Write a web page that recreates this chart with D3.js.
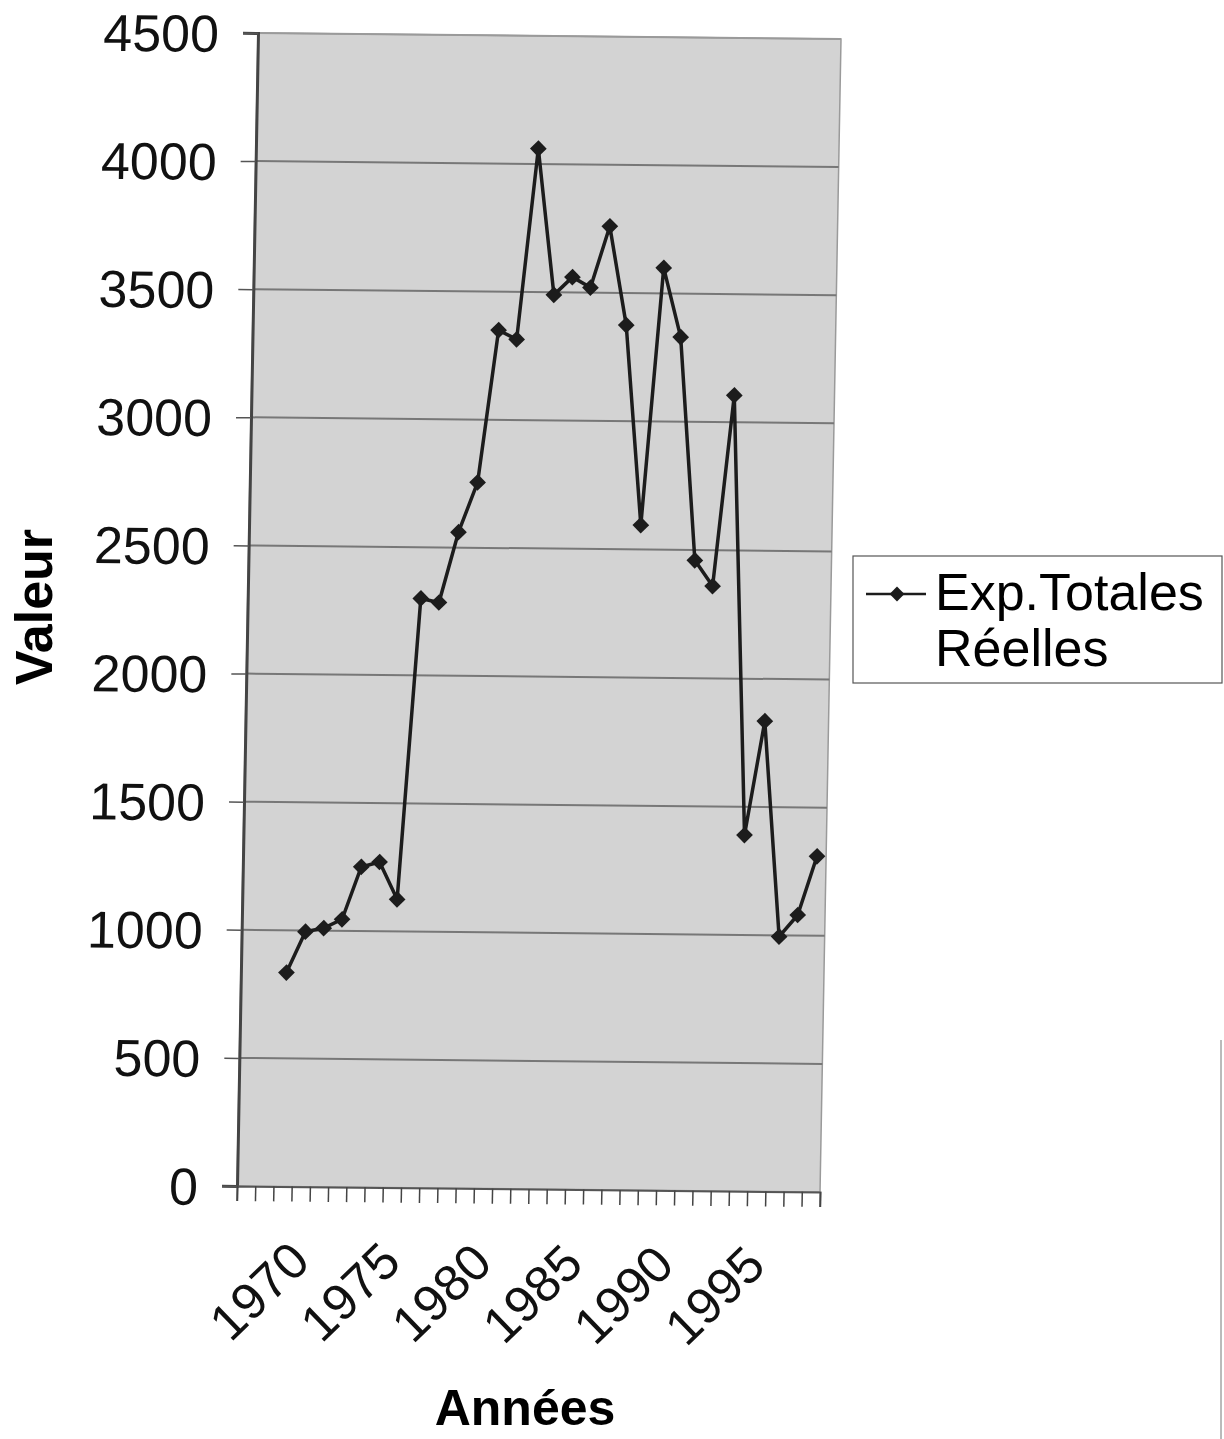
<!DOCTYPE html>
<html lang="fr">
  <head>
    <meta charset="utf-8">
    <title>Exp. Totales Réelles</title>
    <style>
      body { margin: 0; background: white; }
      svg { display: block; font-family: "Liberation Sans", Arial, sans-serif; }
      .tick text { fill: #111; }
    </style>
    <script src="https://d3js.org/d3.v7.min.js"></script>
  </head>
  <body>
    <script>
    // data
    const years = d3.range(1970, 2000);
    const values = [835, 995, 1010, 1045, 1250, 1270, 1125, 2300, 2285, 2560,
                    2755, 3350, 3315, 4060, 3490, 3560, 3520, 3760, 3375, 2595,
                    3600, 3330, 2460, 2360, 3105, 1390, 1835, 995, 1080, 1310];
    const yTicks = d3.range(0, 4501, 500);
    const xLabelYears = [1970, 1975, 1980, 1985, 1990, 1995];
    const seriesName = ["Exp.Totales", "Réelles"];

    const W = 1224, H = 1439;
    const plot = { left: 237, right: 820, top: 33, bottom: 1186 };

    const svg = d3.select("body").append("svg")
      .attr("width", W)
      .attr("height", H);

    // categories 1968..1999, points sit in the middle of each slot
    const x = d3.scaleLinear().domain([1967.5, 1999.5]).range([plot.left, plot.right]);
    const y = d3.scaleLinear().domain([0, 4500]).range([plot.bottom, plot.top]);

    // the scan is slightly sheared, so the plot group gets a small affine tweak
    const g = svg.append("g")
      .attr("transform", "matrix(1 0.0103 -0.0182 1 21.6 -2.44)");

    g.append("rect")
      .attr("x", plot.left)
      .attr("y", plot.top)
      .attr("width", plot.right - plot.left)
      .attr("height", plot.bottom - plot.top)
      .attr("fill", "#d3d3d3")
      .attr("stroke", "#9a9a9a")
      .attr("stroke-width", 1.5);

    // gridlines
    g.append("g")
      .selectAll("line")
      .data(yTicks.filter(d => d > 0))
      .join("line")
      .attr("x1", plot.left)
      .attr("x2", plot.right)
      .attr("y1", d => y(d))
      .attr("y2", d => y(d))
      .attr("stroke", d => d == 4500 ? "#9a9a9a" : "#777")
      .attr("stroke-width", 2);

    const yAxis = g.append("g")
      .attr("transform", `translate(${plot.left},0)`)
      .call(d3.axisLeft(y).tickValues(yTicks).tickFormat(d3.format("d")).tickSize(15).tickPadding(24));
    yAxis.select(".domain").attr("stroke", "#444").attr("stroke-width", 3);
    yAxis.selectAll(".tick line").attr("stroke", "#555").attr("stroke-width", 1.5);
    yAxis.selectAll("text")
      .style("font-size", "52px")
      .attr("dy", "0.36em");

    // tick marks sit between the categories
    const xAxis = g.append("g")
      .attr("transform", `translate(0,${plot.bottom})`)
      .call(d3.axisBottom(x)
        .tickValues(d3.range(1967.5, 2000, 1))
        .tickSize(15)
        .tickFormat(""));
    xAxis.select(".domain").attr("stroke", "#555").attr("stroke-width", 2);
    xAxis.selectAll(".tick line").attr("stroke", "#444").attr("stroke-width", 1.5);

    xAxis.selectAll("text.lab")
      .data(xLabelYears)
      .join("text")
      .attr("class", "lab")
      .attr("text-anchor", "end")
      .attr("transform", d => `translate(${x(d) + 31},77) rotate(-45)`)
      .attr("fill", "#111")
      .style("font-size", "51px")
      .text(d => d);

    // series
    const line = d3.line()
      .x((d, i) => x(years[i]))
      .y(d => y(d));

    g.append("path")
      .datum(values)
      .attr("d", line)
      .attr("fill", "none")
      .attr("stroke", "#1c1c1c")
      .attr("stroke-width", 3.5)
      .attr("stroke-linejoin", "round");

    const diamond = d3.symbol().type(d3.symbolSquare).size(140);

    g.append("g")
      .selectAll("path")
      .data(values)
      .join("path")
      .attr("d", diamond)
      .attr("transform", (d, i) => `translate(${x(years[i])},${y(d)}) rotate(45)`)
      .attr("fill", "#1c1c1c");

    // axis titles
    svg.append("text")
      .attr("transform", "translate(52,607) rotate(-90)")
      .attr("text-anchor", "middle")
      .style("font-size", "52px")
      .style("font-weight", "bold")
      .text("Valeur");

    svg.append("text")
      .attr("x", 525)
      .attr("y", 1425)
      .attr("text-anchor", "middle")
      .style("font-size", "50px")
      .style("font-weight", "bold")
      .text("Années");

    // legend
    const lg = svg.append("g");
    lg.append("rect")
      .attr("x", 853)
      .attr("y", 556)
      .attr("width", 369)
      .attr("height", 127)
      .attr("fill", "white")
      .attr("stroke", "#555")
      .attr("stroke-width", 1.2);
    lg.append("line")
      .attr("x1", 866).attr("x2", 926)
      .attr("y1", 594).attr("y2", 594)
      .attr("stroke", "#1c1c1c")
      .attr("stroke-width", 2.5);
    lg.append("path")
      .attr("d", d3.symbol().type(d3.symbolSquare).size(110))
      .attr("transform", "translate(897,594) rotate(45)")
      .attr("fill", "#1c1c1c");
    lg.selectAll("text.lab")
      .data(seriesName)
      .join("text")
      .attr("class", "lab")
      .attr("x", 935)
      .attr("y", (d, i) => 610 + i * 56)
      .style("font-size", "52px")
      .text(d => d);

    // page edge visible on the right of the scan
    svg.append("line")
      .attr("x1", 1221).attr("x2", 1221)
      .attr("y1", 1040).attr("y2", H)
      .attr("stroke", "#777")
      .attr("stroke-width", 1);
    </script>
  </body>
</html>
